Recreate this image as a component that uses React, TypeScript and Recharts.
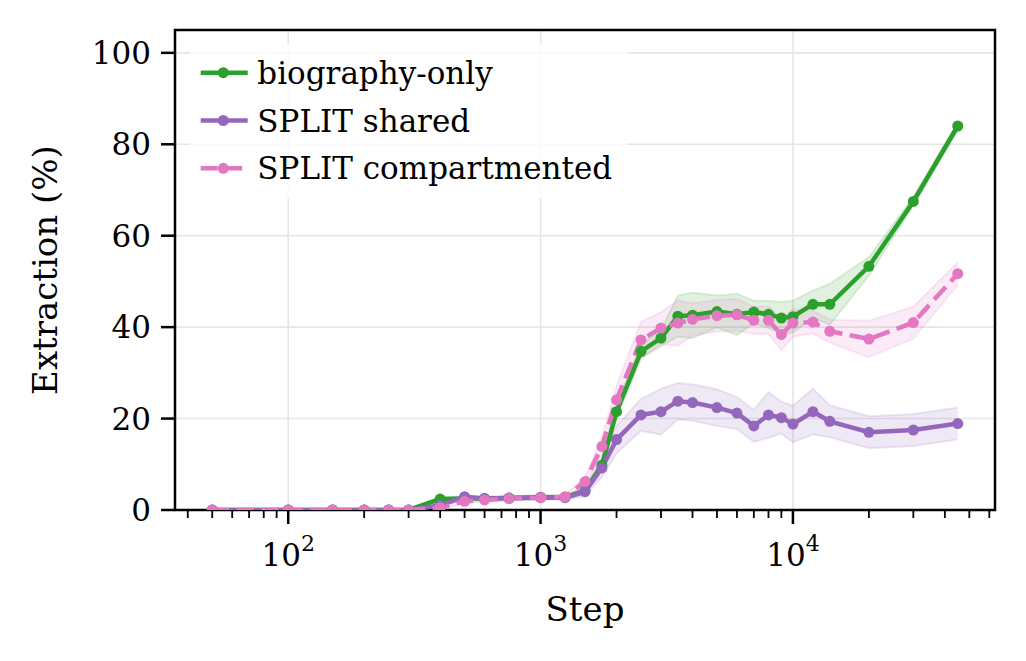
import React from 'react';
import { ComposedChart, Line, Area, XAxis, YAxis, CartesianGrid, ReferenceArea } from 'recharts';

const steps = [50, 100, 150, 200, 250, 300, 400, 500, 600, 750, 1000, 1250, 1500, 1750, 2000, 2500, 3000, 3500, 4000, 5000, 6000, 7000, 8000, 9000, 10000, 12000, 14000, 20000, 30000, 45000];

const bioOnly = [0, 0, 0, 0, 0, 0, 2.4, 2.5, 2.5, 2.6, 2.8, 2.8, 4.2, 9.8, 21.5, 34.7, 37.6, 42.4, 42.6, 43.4, 42.8, 43.3, 42.8, 42.0, 42.3, 45.0, 45.0, 53.3, 67.5, 84.0];
const bioOnlyStd = [0.2, 0.2, 0.2, 0.2, 0.2, 0.2, 0.4, 0.4, 0.4, 0.4, 0.4, 0.4, 0.6, 1.0, 1.5, 1.5, 1.8, 4.5, 5.0, 3.5, 4.5, 2.5, 3.0, 3.5, 3.5, 3.0, 4.5, 2.0, 1.0, 1.0];

const splitShared = [0, 0, 0, 0, 0, 0, 1.0, 2.9, 2.5, 2.6, 2.7, 2.7, 4.0, 9.2, 15.4, 20.8, 21.5, 23.8, 23.5, 22.4, 21.2, 18.4, 20.8, 20.2, 18.8, 21.5, 19.4, 17.0, 17.5, 18.9];
const splitSharedStd = [0.2, 0.2, 0.2, 0.2, 0.2, 0.2, 0.4, 0.4, 0.4, 0.4, 0.4, 0.4, 1.0, 2.0, 3.0, 3.5, 5.0, 4.0, 4.0, 4.0, 3.5, 3.5, 5.0, 3.5, 4.0, 5.0, 3.5, 3.5, 3.5, 3.5];

const splitComp = [0, 0, 0, 0, 0, 0, 0.5, 1.9, 2.2, 2.5, 2.7, 2.9, 6.2, 13.9, 24.1, 37.2, 39.8, 40.9, 41.7, 42.5, 42.7, 41.5, 41.5, 38.4, 40.9, 41.1, 39.1, 37.4, 41.0, 51.7];
const splitCompStd = [0.2, 0.2, 0.2, 0.2, 0.2, 0.2, 0.4, 0.4, 0.4, 0.4, 0.4, 0.4, 1.0, 2.0, 3.0, 4.0, 3.5, 5.0, 3.5, 3.5, 3.5, 3.0, 3.0, 3.5, 3.0, 2.5, 2.5, 4.0, 3.5, 2.5];

const seriesNames = ['biography-only', 'SPLIT shared', 'SPLIT compartmented'];
const seriesKeys = ['bio', 'shared', 'comp'];
const seriesColors = ['#2ca02c', '#9467bd', '#e377c2'];
const seriesDash = ['', '', '17 7.5'];

const majorTicks = [100, 1000, 10000];
const minorTicks = [40, 50, 60, 70, 80, 90, 200, 300, 400, 500, 600, 700, 800, 900, 2000, 3000, 4000, 5000, 6000, 7000, 8000, 9000, 20000, 30000, 40000, 50000, 60000];
const yTicks = [0, 20, 40, 60, 80, 100];
const xDomain = [35.6, 63200];
const yDomain = [0, 105];

const FONT = "'DejaVu Serif', serif";

const band = (m: number, s: number) => [Math.max(0, m - s), m + s];

const data = steps.map((s, i) => ({
  step: s,
  bio: bioOnly[i],
  shared: splitShared[i],
  comp: splitComp[i],
  bioBand: band(bioOnly[i], bioOnlyStd[i]),
  sharedBand: band(splitShared[i], splitSharedStd[i]),
  compBand: band(splitComp[i], splitCompStd[i]),
}));

const XTick = (props: any) => {
  const { x, y, payload } = props;
  const v = payload.value;
  const isMajor = majorTicks.includes(v);
  if (isMajor) {
    const exp = Math.round(Math.log10(v));
    return (
      <g>
        <line x1={x} y1={y} x2={x} y2={y + 14} stroke="#000" strokeWidth={2.5} />
        <text x={x} y={y + 56} textAnchor="middle" fontFamily={FONT} fontSize={31} fill="#000">
          10<tspan dy={-15} fontSize={22}>{exp}</tspan>
        </text>
      </g>
    );
  }
  return <line x1={x} y1={y} x2={x} y2={y + 8} stroke="#000" strokeWidth={1.8} />;
};

const YTick = (props: any) => {
  const { x, y, payload } = props;
  return (
    <g>
      <line x1={x - 14} y1={y} x2={x} y2={y} stroke="#000" strokeWidth={2.5} />
      <text x={x - 24} y={y} dy="0.36em" textAnchor="end" fontFamily={FONT} fontSize={31} fill="#000">
        {payload.value}
      </text>
    </g>
  );
};

const XLabel = (props: any) => {
  const vb = props.viewBox;
  return (
    <text x={vb.x + vb.width / 2} y={vb.y + 111} textAnchor="middle" fontFamily={FONT} fontSize={34} fill="#000">
      Step
    </text>
  );
};

const YLabel = (props: any) => {
  const vb = props.viewBox;
  const cx = vb.x + 57;
  const cy = vb.y + vb.height / 2;
  return (
    <text x={cx} y={cy} transform={`rotate(-90, ${cx}, ${cy})`} textAnchor="middle" fontFamily={FONT} fontSize={34} fill="#000">
      Extraction (%)
    </text>
  );
};

const LegendBox = () => (
  <div style={{ position: 'absolute', left: 190, top: 43, width: 437, height: 155, background: 'rgba(255,255,255,0.8)' }}>
    <svg width={437} height={155}>
      {seriesNames.map((name, i) => {
        const cy = 29.7 + i * 47.8;
        return (
          <g key={name}>
            <line x1={10.7} y1={cy} x2={57.7} y2={cy} stroke={seriesColors[i]} strokeWidth={4.5} strokeDasharray={seriesDash[i] || undefined} />
            <circle cx={33.3} cy={cy} r={5.5} fill={seriesColors[i]} />
            <text x={67.3} y={cy} dy="0.36em" fontFamily={FONT} fontSize={31} fill="#000">{name}</text>
          </g>
        );
      })}
    </svg>
  </div>
);

export default function App() {
  return (
    <div style={{ position: 'absolute', left: 0, top: 0, width: 1026, height: 661, background: '#fff' }}>
      <ComposedChart width={1026} height={661} data={data} margin={{ top: 30, right: 31, bottom: 0, left: 0 }}>
        <XAxis
          dataKey="step"
          type="number"
          scale="log"
          domain={xDomain}
          allowDataOverflow
          ticks={[...majorTicks, ...minorTicks]}
          interval={0}
          tick={<XTick />}
          tickSize={0}
          tickMargin={0}
          tickLine={false}
          axisLine={false}
          height={151}
          label={<XLabel />}
        />
        <YAxis
          type="number"
          domain={yDomain}
          allowDataOverflow
          ticks={yTicks}
          interval={0}
          tick={<YTick />}
          tickSize={0}
          tickMargin={0}
          tickLine={false}
          axisLine={false}
          width={175}
          label={<YLabel />}
        />
        <CartesianGrid stroke="#e6e6e6" strokeWidth={1.6} verticalValues={majorTicks} horizontalValues={yTicks} />
        {seriesKeys.map((k, i) => (
          <Area
            key={k + 'band'}
            dataKey={k + 'Band'}
            type="linear"
            fill={seriesColors[i]}
            fillOpacity={0.15}
            stroke={seriesColors[i]}
            strokeOpacity={0.15}
            strokeWidth={2}
            isAnimationActive={false}
            dot={false}
            activeDot={false}
          />
        ))}
        {seriesKeys.map((k, i) => (
          <Line
            key={k}
            dataKey={k}
            type="linear"
            stroke={seriesColors[i]}
            strokeWidth={4.5}
            strokeDasharray={seriesDash[i] || undefined}
            dot={{ r: 5.5, fill: seriesColors[i], stroke: 'none', strokeDasharray: '' }}
            activeDot={false}
            isAnimationActive={false}
          />
        ))}
        <ReferenceArea x1={xDomain[0]} x2={xDomain[1]} y1={yDomain[0]} y2={yDomain[1]} fill="none" stroke="#000" strokeWidth={2.5} ifOverflow="visible" />
      </ComposedChart>
      <LegendBox />
    </div>
  );
}
